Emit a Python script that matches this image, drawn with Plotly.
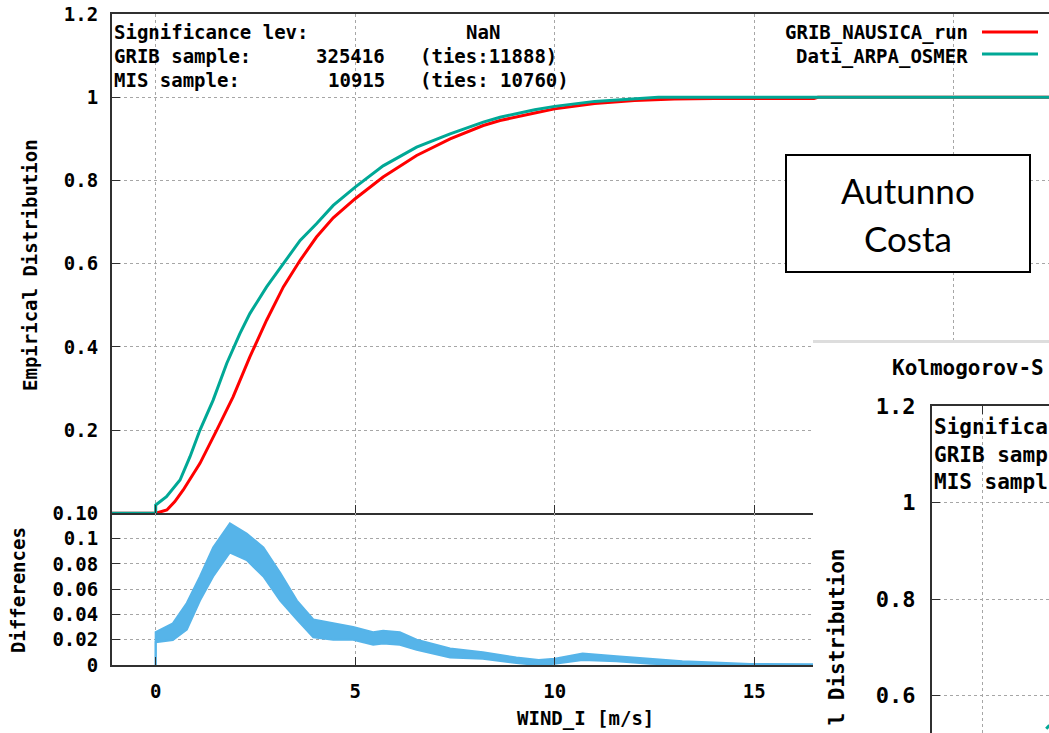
import plotly.graph_objects as go

W, H = 1049, 733

# empirical distributions (WIND_I, m/s)
grib_x = [-1.1, 0.0, 0.28, 0.48, 0.69, 1.11, 1.53, 1.94, 2.36, 2.78, 3.2, 3.62, 4.03, 4.45, 5.0, 5.7, 6.54,
          7.38, 8.21, 8.63, 9.5, 10.0, 11.0, 12.0, 13.0, 14.0, 16.5, 16.6, 22.4]
grib_y = [0, 0, 0.008, 0.028, 0.056, 0.12, 0.2, 0.28, 0.376, 0.464, 0.544, 0.608, 0.664, 0.71, 0.756, 0.808,
          0.86, 0.9, 0.932, 0.944, 0.962, 0.972, 0.985, 0.992, 0.996, 0.997, 0.997, 1.0, 1.0]

osmer_x = [-1.1, 0.0, 0.0, 0.27, 0.61, 0.86, 1.11, 1.44, 1.78, 2.11, 2.36, 2.78, 3.2, 3.62, 4.03, 4.45, 5.0,
           5.7, 6.54, 7.38, 8.21, 8.63, 9.5, 10.0, 11.0, 12.0, 12.6, 22.4]
osmer_y = [0, 0, 0.02, 0.04, 0.08, 0.136, 0.2, 0.272, 0.36, 0.432, 0.48, 0.544, 0.6, 0.656, 0.696, 0.74, 0.784,
           0.835, 0.88, 0.912, 0.94, 0.952, 0.97, 0.978, 0.99, 0.996, 1.0, 1.0]

# differences band (upper / lower envelope)
diff_x = [0.0, 0.0, 0.43, 0.78, 1.11, 1.44, 1.86, 2.28, 2.7, 3.12, 3.54, 3.95, 4.45, 4.95, 5.45, 5.7, 6.12,
          6.54, 7.38, 8.2, 9.04, 9.6, 10.0, 10.7, 11.55, 12.4, 13.2, 14.0, 14.9, 16.5]
diff_hi = [0.0, 0.026, 0.033, 0.049, 0.07, 0.093, 0.112, 0.104, 0.093, 0.073, 0.051, 0.036, 0.033, 0.030,
           0.026, 0.027, 0.026, 0.02, 0.013, 0.01, 0.006, 0.004, 0.005, 0.009, 0.007, 0.005, 0.003, 0.002,
           0.0008, 0.0005]
diff_lo = [0.0, 0.018, 0.0197, 0.028, 0.051, 0.07, 0.089, 0.083, 0.07, 0.051, 0.036, 0.022, 0.02, 0.02,
           0.016, 0.017, 0.016, 0.012, 0.006, 0.005, 0.0015, 0.0, 0.001, 0.004, 0.003, 0.001, 0.0, 0.0, 0.0, 0.0]

# bit of the second chart pasted bottom-right
inset_x = [1.39, 1.46]
inset_y = [0.531, 0.538]

x_ticks = [0, 5, 10, 15]
main_y_ticks = [0.2, 0.4, 0.6, 0.8, 1.0, 1.2]
main_y_text = ["0.2", "0.4", "0.6", "0.8", "1", "1.2"]
diff_y_ticks = [0, 0.02, 0.04, 0.06, 0.08, 0.1, 0.12]
diff_y_text = ["0", "0.02", "0.04", "0.06", "0.08", "0.1", "0.10"]
inset_y_ticks = [0.6, 0.8, 1.0, 1.2]
inset_y_text = ["0.6", "0.8", "1", "1.2"]

RED = "#ff0000"
TEAL = "#00a896"
SKY = "#56b4e9"
FRAME = "#303030"
GRID = "#a6a6a6"


def px(p):
    return p / W


def py(p):
    return 1 - p / H


fig = go.Figure()

fig.add_trace(go.Scatter(x=grib_x, y=grib_y, mode="lines", line=dict(color=RED, width=3),
                         name="GRIB_NAUSICA_run", xaxis="x", yaxis="y"))
fig.add_trace(go.Scatter(x=osmer_x, y=osmer_y, mode="lines", line=dict(color=TEAL, width=3),
                         name="Dati_ARPA_OSMER", xaxis="x", yaxis="y"))

fig.add_trace(go.Scatter(x=diff_x, y=diff_lo, mode="lines", line=dict(color=SKY, width=2),
                         xaxis="x2", yaxis="y2"))
fig.add_trace(go.Scatter(x=diff_x, y=diff_hi, mode="lines", line=dict(color=SKY, width=2),
                         fill="tonexty", fillcolor=SKY, xaxis="x2", yaxis="y2"))

# empty cover subplot (the pasted screenshot background)
fig.add_trace(go.Scatter(x=[None], y=[None], xaxis="x3", yaxis="y3"))
fig.add_trace(go.Scatter(x=inset_x, y=inset_y, mode="lines", line=dict(color=TEAL, width=3),
                         xaxis="x4", yaxis="y4"))

x_range = [-1.095, 22.39]
common = dict(showline=True, linecolor=FRAME, linewidth=2, ticks="inside", ticklen=8,
              tickcolor=FRAME, showgrid=True, gridcolor=GRID, gridwidth=1, griddash="3px,3px",
              zeroline=False, automargin=False, ticklabeloverflow="allow")

fig.update_layout(
    width=W, height=H, autosize=False,
    margin=dict(l=0, r=0, t=0, b=0, pad=0, autoexpand=False),
    paper_bgcolor="white", plot_bgcolor="white",
    showlegend=False,
    font=dict(family="DejaVu Sans Mono", size=19, color="black", weight="bold"),
    xaxis=dict(domain=[px(112), 1], range=x_range, anchor="y", tickvals=[0, 5, 10, 15, 20],
               showticklabels=False, mirror=True, **common),
    yaxis=dict(domain=[py(513.3), py(14)], range=[0, 1.2], anchor="x", tickvals=main_y_ticks,
               ticktext=main_y_text, ticklabelstandoff=8, mirror=True, **common),
    xaxis2=dict(domain=[px(112), 1], range=x_range, anchor="y2", tickvals=x_ticks,
                ticklabelstandoff=8, mirror=False, **common),
    yaxis2=dict(domain=[py(665), py(513.3)], range=[0, 0.12], anchor="x2", tickvals=diff_y_ticks,
                ticktext=diff_y_text, ticklabelstandoff=8, mirror=True, **common),
    xaxis3=dict(domain=[px(813), 1], range=[0, 1], anchor="y3", side="top", showline=True,
                linecolor="#dddddd", linewidth=3, showgrid=False, zeroline=False,
                showticklabels=False, ticks="", automargin=False),
    yaxis3=dict(domain=[0, py(343)], range=[0, 1], anchor="x3", showline=False, showgrid=False,
                zeroline=False, showticklabels=False, ticks="", automargin=False),
    xaxis4=dict(domain=[px(932), 1], range=[-1.082, 1.45], anchor="y4", side="top", showline=True,
                linecolor=FRAME, linewidth=2, mirror=False, ticks="inside", ticklen=8,
                tickcolor=FRAME, tickvals=[0], showticklabels=False, showgrid=True,
                gridcolor=GRID, griddash="3px,3px", zeroline=False, automargin=False),
    yaxis4=dict(domain=[0, py(406)], range=[1.2 - 327 / 482.5, 1.2], anchor="x4", showline=True,
                linecolor=FRAME, linewidth=2, mirror=False, ticks="inside", ticklen=8,
                tickcolor=FRAME, tickvals=inset_y_ticks, ticktext=inset_y_text,
                tickfont=dict(size=22), ticklabelstandoff=10, showgrid=True, gridcolor=GRID,
                griddash="3px,3px", zeroline=False, automargin=False,
                ticklabeloverflow="allow"),
)

ann = []


def txt(text, x, y, xa="left", size=19, **kw):
    ann.append(dict(text=text, x=px(x), y=py(y), xref="paper", yref="paper", xanchor=xa,
                    yanchor="middle", showarrow=False, font=dict(size=size), **kw))


txt("Significance lev:", 112, 32)
txt("NaN", 483, 32, xa="center")
txt("GRIB sample:", 112, 56)
txt("325416", 387, 56, xa="right")
txt("(ties:11888)", 418, 56)
txt("MIS sample:", 112, 80)
txt("10915", 387, 80, xa="right")
txt("(ties: 10760)", 418, 80)

txt("GRIB_NAUSICA_run", 970, 33, xa="right")
txt("Dati_ARPA_OSMER", 970, 56, xa="right")

txt("Empirical Distribution", 30, 265, xa="center", textangle=-90)
txt("Differences", 18, 590, xa="center", textangle=-90)
txt("WIND_I [m/s]", 585, 718, xa="center")

# inset texts (only the part visible in the cropped screenshot)
txt("Kolmogorov-S", 890, 368, size=21)
txt("Significa", 932, 427, size=21)
txt("GRIB samp", 932, 455, size=21)
txt("MIS sampl", 932, 482, size=21)
ann.append(dict(text="l Distribution", x=px(836), y=py(547), xref="paper", yref="paper",
                xanchor="center", yanchor="top", showarrow=False, textangle=-90,
                font=dict(size=21)))

# season / area label
ann.append(dict(text="Autunno", x=px(908), y=py(190), xref="paper", yref="paper",
                xanchor="center", yanchor="middle", showarrow=False,
                font=dict(family="Lato", size=35, weight="normal", color="black")))
ann.append(dict(text="Costa", x=px(908), y=py(238), xref="paper", yref="paper",
                xanchor="center", yanchor="middle", showarrow=False,
                font=dict(family="Lato", size=35, weight="normal", color="black")))

fig.update_layout(
    annotations=ann,
    shapes=[
        dict(type="line", xref="paper", yref="paper", x0=px(982), x1=px(1038), y0=py(32), y1=py(32),
             line=dict(color=RED, width=3)),
        dict(type="line", xref="paper", yref="paper", x0=px(982), x1=px(1038), y0=py(54), y1=py(54),
             line=dict(color=TEAL, width=3)),
        dict(type="rect", xref="paper", yref="paper", x0=px(786), x1=px(1030), y0=py(272), y1=py(155),
             line=dict(color="black", width=2), fillcolor="white", layer="above"),
    ],
)

# drop the default 8px page margin so the figure sits at the window origin
fig.write_html("out.html", config={"displayModeBar": False},
               post_script="document.body.style.margin = '0px';")
